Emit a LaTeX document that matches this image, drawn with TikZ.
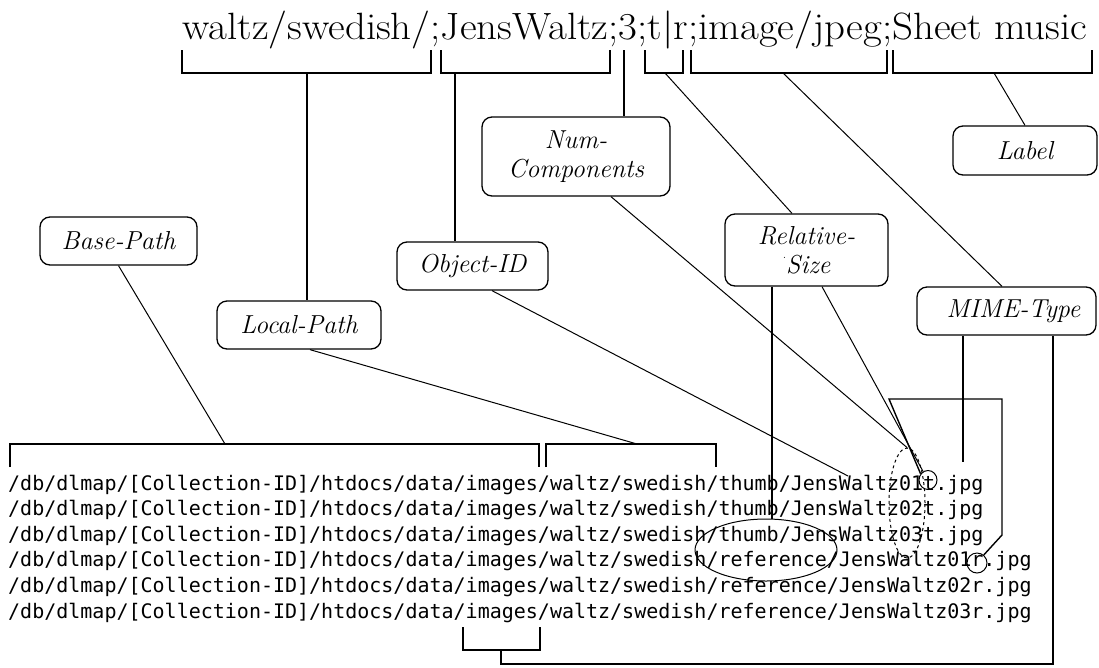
\documentclass[tikz,border=0pt]{standalone}
\usepackage{fontspec}
\usepackage{graphicx}
\newfontfamily\codefont{DejaVu Sans Mono}
\usetikzlibrary{shapes.geometric}

\begin{document}
\begin{tikzpicture}[x=1pt,y=-1pt,
  lbl/.style={draw, rounded corners=10pt, line width=1.3pt, inner sep=0pt,
    align=center, font=\fontsize{26}{29}\selectfont\itshape},
  brk/.style={line width=1.6pt},
  con/.style={line width=1pt},
  stem/.style={line width=1.4pt},
  codeline/.style={anchor=base west, inner sep=0pt,
    font=\codefont\fontsize{20}{20}\selectfont},
  ring/.style={draw, ellipse, line width=1pt, inner sep=0pt}
]
\useasboundingbox (0,0) rectangle (1099,667);

% the record line being explained
\node[anchor=base west, inner sep=0pt] (head) at (182,39)
  {\resizebox{905pt}{\height}{\fontsize{38}{40}\selectfont waltz/swedish/;JensWaltz;3;t|r;image/jpeg;Sheet music}};

% field labels
\node[lbl, minimum width=157pt, minimum height=48pt] (base) at (118.5,241) {Base-Path};
\node[lbl, minimum width=164pt, minimum height=48pt] (local) at (299,325) {Local-Path};
\node[lbl, minimum width=151pt, minimum height=48pt] (objid) at (472.5,266) {Object-ID};
\node[lbl, minimum width=188pt, minimum height=79pt] (numc) at (576,156.5) {Num-\\Components};
\node[lbl, minimum width=163pt, minimum height=72pt] (rel) at (806.5,250)
  {Relative-\\\raisebox{0.55em}{\fontsize{12}{12}\selectfont .}Size};
\node[lbl, minimum width=179pt, minimum height=48pt] (mime) at (1006.5,311) {\hspace*{14pt}MIME-Type};
\node[lbl, minimum width=144pt, minimum height=49pt] (label) at (1025,150.5) {Label};

% the resulting file paths
\node[codeline] (p1) at (8,490.0) {/db/dlmap/[Collection-ID]/htdocs/data/images/waltz/swedish/thumb/JensWaltz01t.jpg};
\node[codeline] (p2) at (8,515.6) {/db/dlmap/[Collection-ID]/htdocs/data/images/waltz/swedish/thumb/JensWaltz02t.jpg};
\node[codeline] (p3) at (8,541.2) {/db/dlmap/[Collection-ID]/htdocs/data/images/waltz/swedish/thumb/JensWaltz03t.jpg};
\node[codeline] (p4) at (8,566.8) {/db/dlmap/[Collection-ID]/htdocs/data/images/waltz/swedish/reference/JensWaltz01r.jpg};
\node[codeline] (p5) at (8,592.4) {/db/dlmap/[Collection-ID]/htdocs/data/images/waltz/swedish/reference/JensWaltz02r.jpg};
\node[codeline] (p6) at (8,618.0) {/db/dlmap/[Collection-ID]/htdocs/data/images/waltz/swedish/reference/JensWaltz03r.jpg};

% rings around parts of the paths
\node[ring, minimum width=142pt, minimum height=62pt] (bigell) at (766,550) {};
\node[ring, dashed, minimum width=36pt, minimum height=110pt] (vell) at (907,503) {};
\node[ring, minimum width=18pt, minimum height=19pt] (tcirc) at (928,480) {};
\node[ring, minimum width=20pt, minimum height=20pt] (rcirc) at (977,563) {};

% brackets under the record line
\coordinate (b1) at (307,73);
\coordinate (b2) at (455,73);
\coordinate (b3) at (665,73);
\coordinate (b4) at (783,73);
\coordinate (b5) at (994,73);
\coordinate (three) at (624,50);
\draw[brk] (182,50) -- (182,73) -- (431,73) -- (431,50);
\draw[brk] (441,50) -- (441,73) -- (610,73) -- (610,50);
\draw[brk] (645,50) -- (645,73) -- (683,73) -- (683,50);
\draw[brk] (691,50) -- (691,73) -- (887,73) -- (887,50);
\draw[brk] (893,50) -- (893,73) -- (1092,73) -- (1092,50);

% brackets over the paths
\coordinate (bb1) at (225,444);
\coordinate (bb2) at (637,444);
\draw[brk] (10,467) -- (10,444) -- (539,444) -- (539,467);
\draw[brk] (546,467) -- (546,444) -- (716,444) -- (716,467);
\coordinate (imgmid) at (501,650);
\draw[brk] (463,627) -- (463,650) -- (540,650) -- (540,627);

% record fields to labels
\draw[stem] (b1) -- (b1 |- local.north);
\draw[stem] (b2) -- (b2 |- objid.north);
\draw[stem] (three) -- (three |- numc.north);
\draw[con] (b3) -- ([xshift=-14.5pt]rel.north);
\draw[con] (b4) -- ([xshift=-4.5pt]mime.north);
\draw[con] (b5) -- (label.north);

% labels to the paths
\draw[con] (base.south) -- (bb1);
\draw[con] ([xshift=11pt]local.south) -- (bb2);
\coordinate (jw) at (848,476);
\draw[con] ([xshift=19.5pt]objid.south) -- (jw);
\draw[con] ([xshift=35pt]numc.south) -- (vell.north);
\coordinate (rsx) at (772,0);
\draw[stem] (rsx |- rel.south) -- (rsx |- bigell.north);
\draw[con] ([xshift=15.5pt]rel.south) -- (tcirc.120);

% t|r link between the two size letters
\coordinate (trA) at (889,399);
\coordinate (trB) at (1002,399);
\coordinate (trC) at (1002,535);
\draw[stem] (tcirc.140) -- (trA) -- (trB) -- (trC) -- (rcirc.50);

% MIME type to the extension, and to the images folder
\coordinate (mx) at (963,462);
\draw[stem] (mx |- mime.south) -- (mx);
\coordinate (botR) at (1053,664);
\coordinate (imgstem) at (501,664);
\draw[stem] (botR |- mime.south) -- (botR) -- (imgstem) -- (imgmid);
\end{tikzpicture}
\end{document}
